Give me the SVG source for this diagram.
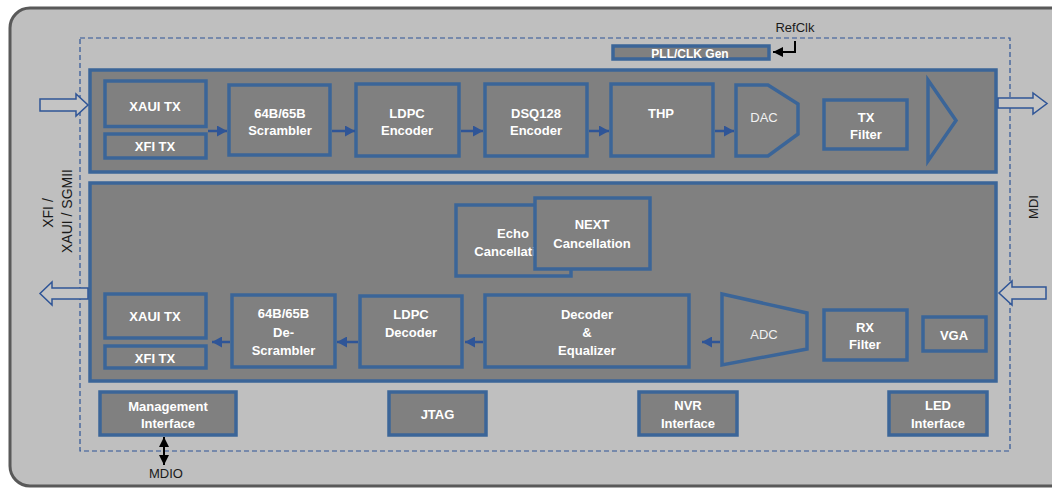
<svg xmlns="http://www.w3.org/2000/svg" width="1052" height="490" viewBox="0 0 1052 490">
<style>
.box{fill:#808080;stroke:#3b6598;stroke-width:3.5}
.big{fill:#808080;stroke:#3b6598;stroke-width:3.5}
.t{font-family:"Liberation Sans",Arial,sans-serif;font-size:13px;font-weight:bold;fill:#ffffff;text-anchor:middle}
.tn{font-family:"Liberation Sans",Arial,sans-serif;font-size:13px;fill:#f2f2f2;text-anchor:middle}
.lab{font-family:"Liberation Sans",Arial,sans-serif;font-size:13px;fill:#1a1a1a;text-anchor:middle}
.conn{fill:none;stroke:#2f5597;stroke-width:2.5}
.blk{fill:none;stroke:#000;stroke-width:2}
.hollow{fill:#c4c4c4;stroke:#2f5597;stroke-width:1.5}
</style>
<defs>
<marker id="ah" markerUnits="userSpaceOnUse" markerWidth="10" markerHeight="11" refX="10" refY="5.5" orient="auto">
<path d="M0,0 L10,5.5 L0,11 Z" fill="#2f5597"/>
</marker>
<marker id="bh" markerUnits="userSpaceOnUse" markerWidth="10" markerHeight="10" refX="10" refY="5" orient="auto-start-reverse">
<path d="M0,0 L10,5 L0,10 Z" fill="#000"/>
</marker>
</defs>
<rect x="0" y="0" width="1052" height="490" fill="#ffffff"/>
<rect id="chip" x="10" y="8" width="1070" height="478" rx="20" fill="#bfbfbf" stroke="#595959" stroke-width="3"/>
<rect id="boundary" x="80" y="38" width="930" height="413" fill="none" stroke="#2f5597" stroke-width="1.2" stroke-dasharray="5,3"/>

<g id="tx-path"><rect class="big" x="90" y="70" width="906" height="102"/></g>
<g id="rx-path"><rect class="big" x="90" y="183" width="906" height="198"/></g>

<g id="pll"><rect class="box" x="613" y="46" width="156" height="13"/><text class="t" x="690" y="58" font-size="12" style="font-size:12px">PLL/CLK Gen</text></g>

<g id="tx-xaui"><rect class="box" x="105" y="81" width="101" height="45.5"/><text class="t" x="155" y="110.5">XAUI TX</text></g>
<g id="tx-xfi"><rect class="box" x="105" y="134" width="101" height="24"/><text class="t" x="155" y="151">XFI TX</text></g>
<g id="scrambler"><rect class="box" x="229" y="85" width="101" height="70"/><text class="t" x="280" y="117.5">64B/65B</text><text class="t" x="280" y="135">Scrambler</text></g>
<g id="ldpc-enc"><rect class="box" x="356" y="84" width="103" height="72"/><text class="t" x="407" y="117.5">LDPC</text><text class="t" x="407" y="135">Encoder</text></g>
<g id="dsq"><rect class="box" x="485" y="84" width="102" height="72"/><text class="t" x="536" y="117.5">DSQ128</text><text class="t" x="536" y="135">Encoder</text></g>
<g id="thp"><rect class="box" x="611" y="84" width="102" height="72"/><text class="t" x="661" y="117.5">THP</text></g>
<g id="dac"><path class="box" d="M736,85 L768,85 L798,104 L798,134 L768,156 L736,156 Z"/><text class="tn" x="764" y="121.5">DAC</text></g>
<g id="tx-filter"><rect class="box" x="824" y="100" width="83" height="49"/><text class="t" x="866" y="121.5">TX</text><text class="t" x="866" y="139.3">Filter</text></g>
<g id="driver"><polygon class="box" points="928,80 956,120.5 928,161"/></g>

<g id="echo"><rect class="box" x="456" y="205" width="115" height="71"/><text class="t" x="513" y="237.7">Echo</text><text class="t" x="513" y="255.7">Cancellation</text></g>
<g id="next"><rect class="box" x="535" y="198" width="115" height="71"/><text class="t" x="592" y="229.3">NEXT</text><text class="t" x="592" y="247.7">Cancellation</text></g>

<g id="rx-xaui"><rect class="box" x="105" y="294" width="101" height="44"/><text class="t" x="155" y="321">XAUI TX</text></g>
<g id="rx-xfi"><rect class="box" x="105" y="346" width="101" height="22"/><text class="t" x="155" y="363">XFI TX</text></g>
<g id="descrambler"><rect class="box" x="232" y="295" width="103" height="72"/><text class="t" x="283.5" y="318.3">64B/65B</text><text class="t" x="283.5" y="336.7">De-</text><text class="t" x="283.5" y="355">Scrambler</text></g>
<g id="ldpc-dec"><rect class="box" x="360" y="296" width="102" height="71"/><text class="t" x="411" y="319">LDPC</text><text class="t" x="411" y="336.7">Decoder</text></g>
<g id="dec-eq"><rect class="box" x="485" y="295" width="204" height="72"/><text class="t" x="587" y="319">Decoder</text><text class="t" x="587" y="336.7">&amp;</text><text class="t" x="587" y="355">Equalizer</text></g>
<g id="adc"><polygon class="box" points="722,294 807,313 807,349 722,365"/><text class="tn" x="764" y="339">ADC</text></g>
<g id="rx-filter"><rect class="box" x="824" y="310" width="83" height="50"/><text class="t" x="865" y="331.7">RX</text><text class="t" x="865" y="349.3">Filter</text></g>
<g id="vga"><rect class="box" x="923" y="317" width="63" height="34"/><text class="t" x="954" y="340">VGA</text></g>

<g id="mgmt"><rect class="box" x="100" y="392" width="136" height="43"/><text class="t" x="168" y="410.5">Management</text><text class="t" x="168" y="428.3">Interface</text></g>
<g id="jtag"><rect class="box" x="389" y="392" width="97" height="43"/><text class="t" x="437.5" y="419">JTAG</text></g>
<g id="nvr"><rect class="box" x="639" y="392" width="98" height="43"/><text class="t" x="688" y="410">NVR</text><text class="t" x="688" y="428.3">Interface</text></g>
<g id="led"><rect class="box" x="889" y="392" width="98" height="43"/><text class="t" x="938" y="410">LED</text><text class="t" x="938" y="428.3">Interface</text></g>

<g id="connectors">
<path class="conn" d="M208,131 H227" marker-end="url(#ah)"/>
<path class="conn" d="M332,131 H355" marker-end="url(#ah)"/>
<path class="conn" d="M461,131 H483" marker-end="url(#ah)"/>
<path class="conn" d="M589,131 H609" marker-end="url(#ah)"/>
<path class="conn" d="M715,131 H734" marker-end="url(#ah)"/>
<path class="conn" d="M720,342 H702" marker-end="url(#ah)"/>
<path class="conn" d="M483,342 H465" marker-end="url(#ah)"/>
<path class="conn" d="M358,342 H337" marker-end="url(#ah)"/>
<path class="conn" d="M230,342 H212" marker-end="url(#ah)"/>
<polygon class="hollow" points="40,99 76,99 76,94 88,105 76,116 76,111 40,111"/>
<polygon class="hollow" points="998,98 1033,98 1033,93 1047,103.5 1033,114 1033,108 998,108"/>
<polygon class="hollow" points="88,288 52,288 52,282 40,293.5 52,305 52,299 88,299"/>
<polygon class="hollow" points="1046,287 1012,287 1012,281 999,293 1012,305 1012,299 1046,299"/>
<path class="blk" d="M795,41 V52 H773" marker-end="url(#bh)"/>
<path class="blk" d="M164,437 V465" stroke-width="2.5" marker-start="url(#bh)" marker-end="url(#bh)"/>
</g>

<text class="lab" x="795" y="31.7">RefClk</text>
<text class="lab" x="166" y="478.3">MDIO</text>
<text class="lab" style="font-size:14px" transform="translate(53,213) rotate(-90)">XFI  /</text>
<text class="lab" style="font-size:14px" transform="translate(72,211) rotate(-90)">XAUI / SGMII</text>
<text class="lab" transform="translate(1038,207) rotate(-90)">MDI</text>
</svg>
